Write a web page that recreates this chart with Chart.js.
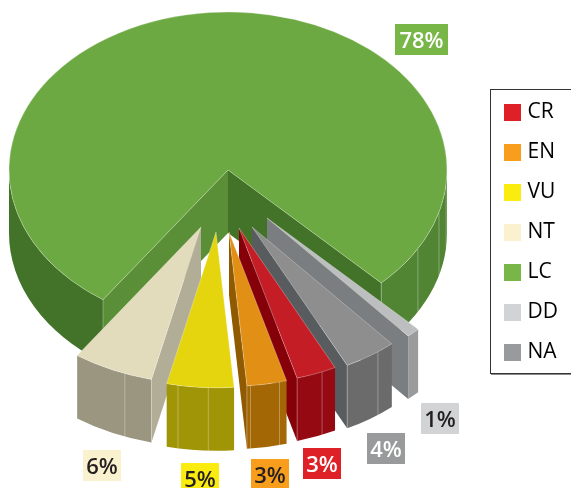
<!DOCTYPE html>
<html>
<head>
<meta charset="utf-8">
<title>Conservation status</title>
<script src="https://cdn.jsdelivr.net/npm/chart.js@4"></script>
<style>
    html, body { margin: 0; padding: 0; background: #fff; overflow: hidden; }
</style>
</head>
<body>
<canvas id="statusPie" width="571" height="488"></canvas>
<script>
var categories = ['CR', 'EN', 'VU', 'NT', 'LC', 'DD', 'NA'];
var percentages = [3, 3, 5, 6, 78, 1, 4];

var topColors = ['#C51D25', '#E29015', '#E5D50F', '#E2DCBC', '#6DA942', '#BDBEC0', '#8E8E8E'];
var keyColors = ['#DE2027', '#F99D1C', '#FBEC0F', '#FAF2CF', '#78B647', '#D1D3D4', '#999A9B'];

// Ellipse the pie is squashed onto, and how far the sides hang below it
var pie = { cx: 228, cy: 170, radius: 219, squash: 0.7215, depth: 63 };

// How each wedge is pulled out of the pie, in pixels, and its own radius
var shifts = [[11, 58], [1, 62], [-12, 62], [-27, 57], [0, 0], [39, 48], [24, 57]];
var radii = [216, 214, 216, 217, 219, 216, 214];

// Side colours: outer wall, second outer wall (LC only), cut at start edge, cut at end edge
var sides = [
    { wall: '#950A12', cutEnd: '#850008', lines: [0.35, 1] },
    { wall: '#A46706', cutEnd: '#8F5A00', lines: [0.18, 0.91, 1] },
    { wall: '#A09507', lines: [0.38, 0.83] },
    { wall: '#9B9680', cutStart: '#B1AD96', lines: [0, 0.34] },
    { wall: '#437328', wallRight: '#518534', cutStart: '#5A8E37', cutEnd: '#437328', lines: [0, 0.856, 0.893, 0.944, 1] },
    { wall: '#9A9B9D', cutEnd: '#7B7E80', lines: [] },
    { wall: '#6A6B6A', cutEnd: '#595C5E', lines: [0.33, 1] }
];
// Back-to-front order for the sides
var sideOrder = [4, 3, 5, 6, 0, 1, 2];

// Percentage tags around the pie: x, y, width, text colour
var tags = [
    { x: 303, y: 448, w: 38, color: '#FFFFFF' },
    { x: 251, y: 459, w: 38, color: '#231F20' },
    { x: 181, y: 463, w: 38, color: '#231F20' },
    { x: 83, y: 450, w: 38, color: '#231F20' },
    { x: 395, y: 24, w: 53, color: '#FFFFFF' },
    { x: 421, y: 403, w: 38, color: '#231F20' },
    { x: 367, y: 433, w: 38, color: '#FFFFFF' }
];

function drawSides(ctx, arc, side) {
    var k = pie.squash;
    var r = arc.outerRadius;
    var x = arc.x;
    var y = pie.cy + (arc.y - pie.cy) * k;
    var a0 = arc.startAngle % (Math.PI * 2);
    if (a0 < 0) a0 += Math.PI * 2;
    var a1 = a0 + (arc.endAngle - arc.startAngle);

    function cut(angle, color) {
        ctx.fillStyle = color;
        ctx.beginPath();
        ctx.moveTo(x, y);
        ctx.lineTo(x + r * Math.cos(angle), y + r * k * Math.sin(angle));
        ctx.lineTo(x + r * Math.cos(angle), y + r * k * Math.sin(angle) + pie.depth);
        ctx.lineTo(x, y + pie.depth);
        ctx.closePath();
        ctx.fill();
    }

    function wall(from, to, color) {
        if (to <= from) return;
        ctx.fillStyle = color;
        ctx.beginPath();
        ctx.ellipse(x, y, r, r * k, 0, from, to, false);
        ctx.ellipse(x, y + pie.depth, r, r * k, 0, to, from, true);
        ctx.closePath();
        ctx.fill();
    }

    if (side.cutStart && Math.cos(a0) < 0) cut(a0, side.cutStart);
    if (side.cutEnd && Math.cos(a1) > 0) cut(a1, side.cutEnd);

    // only the parts of the rim facing the viewer
    wall(a0, Math.min(a1, Math.PI), side.wall);
    wall(Math.PI * 2, Math.min(a1, Math.PI * 3), side.wallRight || side.wall);

    // pale seams down the wall
    ctx.strokeStyle = 'rgba(255,255,255,0.3)';
    ctx.lineWidth = 1;
    side.lines.forEach(function(f) {
        var a = a0 + f * (a1 - a0);
        var px = x + r * Math.cos(a);
        var py = y + r * k * Math.sin(a);
        ctx.beginPath();
        ctx.moveTo(px, py);
        ctx.lineTo(px, py + pie.depth);
        ctx.stroke();
    });
}

var squashedPie = {
    id: 'squashedPie',
    afterLayout: function(chart) {
        var legend = chart.legend;
        legend.left = 489;
        legend.right = 571;
        legend.top = 83;
        legend.bottom = 488;
    },
    afterDatasetsUpdate: function(chart) {
        chart.getDatasetMeta(0).data.forEach(function(arc, i) {
            arc.x = pie.cx + shifts[i][0];
            arc.y = pie.cy + shifts[i][1] / pie.squash;
            arc.outerRadius = radii[i];
        });
    },
    beforeDatasetsDraw: function(chart) {
        var ctx = chart.ctx;
        var arcs = chart.getDatasetMeta(0).data;
        sideOrder.forEach(function(i) {
            drawSides(ctx, arcs[i], sides[i]);
        });
        // the tops are drawn by the arc elements inside this transform
        ctx.save();
        ctx.translate(0, pie.cy);
        ctx.scale(1, pie.squash);
        ctx.translate(0, -pie.cy);
    },
    afterDatasetsDraw: function(chart) {
        chart.ctx.restore();
    },
    afterDraw: function(chart) {
        var ctx = chart.ctx;

        ctx.save();
        ctx.strokeStyle = '#333333';
        ctx.lineWidth = 1;
        ctx.strokeRect(490.5, 89.5, 90, 284);
        ctx.strokeStyle = '#8A8A8A';
        ctx.beginPath();
        ctx.moveTo(491, 374.5);
        ctx.lineTo(571, 374.5);
        ctx.stroke();

        ctx.font = '600 22px "Open Sans"';
        ctx.textAlign = 'center';
        ctx.textBaseline = 'middle';
        tags.forEach(function(tag, i) {
            ctx.fillStyle = keyColors[i];
            ctx.fillRect(tag.x, tag.y, tag.w, 31);
            ctx.fillStyle = tag.color;
            ctx.fillText(percentages[i] + '%', tag.x + tag.w / 2, tag.y + 17.5);
        });
        ctx.restore();
    }
};

document.addEventListener("DOMContentLoaded", function() {
    var pieCtx = document.getElementById('statusPie').getContext('2d');
    new Chart(pieCtx, {
        type: 'pie',
        data: {
            labels: categories,
            datasets: [{
                data: percentages,
                backgroundColor: topColors,
                borderColor: 'rgba(255,255,255,0.4)',
                borderWidth: 0.8,
                clip: false
            }]
        },
        options: {
            responsive: false,
            animation: false,
            rotation: 153.6,
            plugins: {
                tooltip: { enabled: false },
                legend: {
                    display: true,
                    position: 'right',
                    align: 'start',
                    labels: {
                        color: '#231F20',
                        font: { family: '"Open Sans"', size: 21 },
                        boxWidth: 9,
                        boxHeight: 9,
                        padding: 19,
                        generateLabels: function() {
                            // swatch = small box plus a thick stroke of the same colour
                            return categories.map(function(name, i) {
                                return {
                                    text: name,
                                    fillStyle: keyColors[i],
                                    strokeStyle: keyColors[i],
                                    lineWidth: 8,
                                    hidden: false,
                                    index: i
                                };
                            });
                        }
                    }
                }
            }
        },
        plugins: [squashedPie]
    });
});
</script>
</body>
</html>
